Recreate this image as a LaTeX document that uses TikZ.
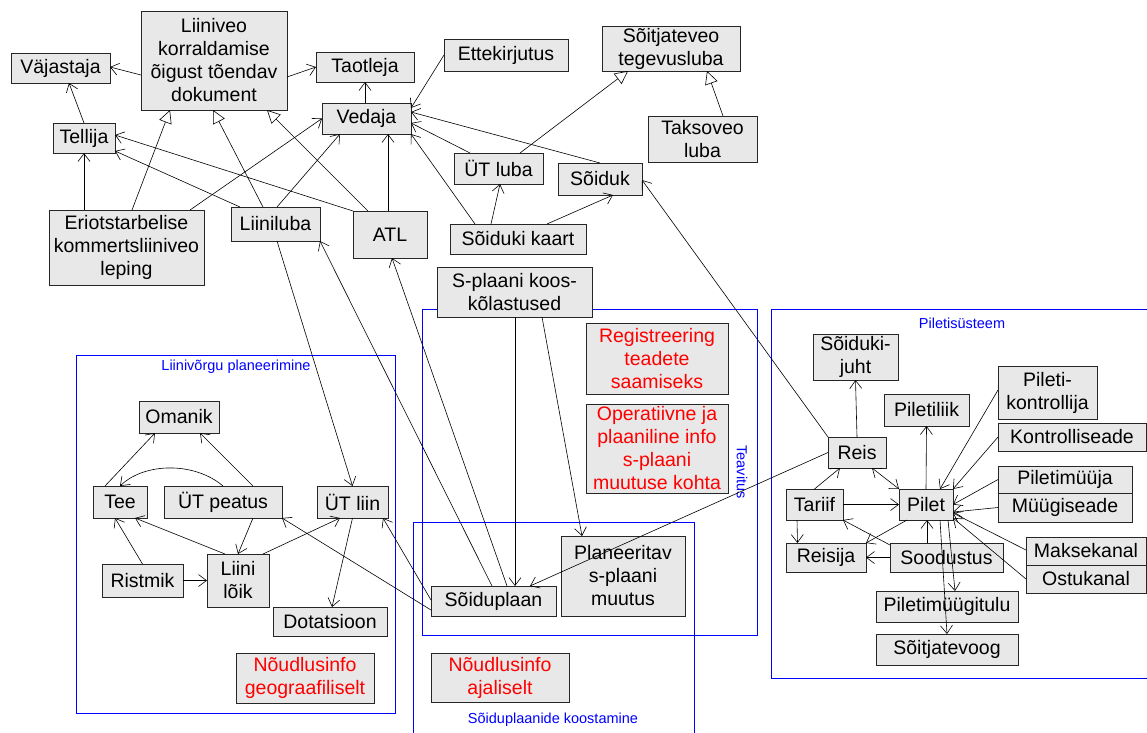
\documentclass[tikz,border=0pt]{standalone}
\usepackage{fontspec}
\setmainfont{Liberation Sans}
\usetikzlibrary{arrows.meta}
\tikzset{
  box/.style={draw=black!85, fill=black!9, line width=0.8pt, inner sep=0pt, outer sep=0pt, align=center, font=\fontsize{19.5}{23}\selectfont, text=black},
  edge/.style={draw=black, line width=0.6pt, -{Straight Barb[length=8pt,width=12pt]}},
  edgeboth/.style={draw=black, line width=0.6pt, {Straight Barb[length=8pt,width=12pt]}-{Straight Barb[length=8pt,width=12pt]}},
  gen/.style={draw=black, line width=0.6pt, -{Triangle[open,length=13pt,width=13pt]}},
  grp/.style={draw=blue, line width=0.8pt},
  grplabel/.style={text=blue, font=\fontsize{14.5}{17}\selectfont, inner sep=0pt},
}
\newcommand\mybox[7][]{\node[box,#1,minimum width={(#5-#3)*1pt},minimum height={(#6-#4)*1pt}] (#2) at ({(#3+#5)/2},{(#4+#6)/2}) {#7};}
\begin{document}
\begin{tikzpicture}[x=1pt,y=-1pt]
\path[use as bounding box, fill=white] (0,0) rectangle (1147,732);
% groups
\draw[grp] (76,355) rectangle (395,713);
\draw[grp] (422,309) rectangle (757,635);
\draw[grp] (413,733) -- (413,522) -- (694,522) -- (694,733);
\draw[grp] (1148,309) -- (771,309) -- (771,678) -- (1148,678);
\node[grplabel] (lbl1) at (236,367) {Liinivõrgu planeerimine};
\node[grplabel, rotate=-90] (lbl2) at (742,472) {Teavitus};
\node[grplabel] (lbl3) at (553,720) {Sõiduplaanide koostamine};
\node[grplabel] (lbl4) at (962,323) {Piletisüsteem};
% nodes
\mybox{vaj}{11}{53}{110}{83}{Väjastaja}
\mybox{lkd}{141}{11}{287}{110}{Liiniveo\\korraldamise\\õigust tõendav\\dokument}
\mybox{tao}{316}{52}{414}{82}{Taotleja}
\mybox{ved}{322}{103}{411}{134}{Vedaja}
\mybox{tel}{53}{123}{115}{153}{Tellija}
\mybox{eri}{49}{210}{204}{285}{Eriotstarbelise\\kommertsliiniveo\\leping}
\mybox{lub}{231}{207}{320}{241}{Liiniluba}
\mybox{atl}{353}{211}{427}{258}{ATL}
\mybox{ette}{444}{39}{568}{71}{Ettekirjutus}
\mybox{stl}{602}{26}{740}{71}{Sõitjateveo\\tegevusluba}
\mybox{tak}{648}{116}{757}{162}{Taksoveo\\luba}
\mybox{utl}{454}{153}{543}{184}{ÜT luba}
\mybox{soi}{558}{163}{642}{195}{Sõiduk}
\mybox{ska}{450}{224}{586}{254}{Sõiduki kaart}
\mybox{spk}{437}{267}{592}{317}{S-plaani koos-\\kõlastused}
\mybox[text=red]{reg}{586}{323}{728}{394}{Registreering\\teadete\\saamiseks}
\mybox[text=red]{ope}{586}{404}{728}{493}{Operatiivne ja\\plaaniline info\\s-plaani\\muutuse kohta}
\mybox{spl}{431}{586}{556}{616}{Sõiduplaan}
\mybox{pla}{561}{536}{685}{616}{Planeeritav\\s-plaani\\muutus}
\mybox[text=red]{nai}{431}{653}{569}{702}{Nõudlusinfo\\ajaliselt}
\mybox{oma}{139}{401}{219}{433}{Omanik}
\mybox{tee}{93}{486}{147}{518}{Tee}
\mybox{utp}{164}{486}{282}{518}{ÜT peatus}
\mybox{utli}{317}{486}{388}{518}{ÜT liin}
\mybox{ris}{102}{564}{183}{597}{Ristmik}
\mybox{llo}{207}{554}{269}{607}{Liini\\lõik}
\mybox{dot}{273}{607}{387}{636}{Dotatsioon}
\mybox[text=red]{ngeo}{236}{653}{374}{703}{Nõudlusinfo\\geograafiliselt}
\mybox{sju}{813}{334}{898}{380}{Sõiduki-\\juht}
\mybox{pliik}{884}{394}{969}{426}{Piletiliik}
\mybox{pk}{998}{366}{1097}{419}{Pileti-\\kontrollija}
\mybox{kse}{998}{423}{1146}{451}{Kontrolliseade}
\mybox{pmj}{998}{466}{1132}{493}{Piletimüüja}
\mybox{mse}{998}{493}{1132}{522}{Müügiseade}
\mybox{reis}{828}{437}{886}{468}{Reis}
\mybox{tar}{786}{489}{843}{520}{Tariif}
\mybox{pil}{899}{489}{953}{520}{Pilet}
\mybox{rsj}{786}{543}{866}{572}{Reisija}
\mybox{soo}{890}{543}{1003}{572}{Soodustus}
\mybox{mk}{1026}{537}{1146}{565}{Maksekanal}
\mybox{ost}{1026}{565}{1146}{593}{Ostukanal}
\mybox{pmt}{876}{591}{1018}{622}{Piletimüügitulu}
\mybox{stv}{876}{634}{1018}{665}{Sõitjatevoog}
% top edges
\draw[edge] ([shift={(0,14.5)}]lkd.west) -- ([shift={(0,-1)}]vaj.east);
\draw[edge] ([shift={(0,16.5)}]lkd.east) -- (tao.west);
\draw[edge] (tel.north) -- ([shift={(8.5,0)}]vaj.south);
\draw[edge] ([shift={(-1.5,0)}]ved.north) -- (tao.south);
\draw[edge] ([shift={(-42.5,0)}]eri.north) -- (tel.south);
\draw[gen] ([shift={(5.5,0)}]eri.north) -- ([shift={(-44,0)}]lkd.south);
\draw[edge] ([shift={(63.5,0)}]eri.north) -- (ved.west);
\draw[edge] ([shift={(-35.5,0)}]lub.north) -- ([shift={(0,13)}]tel.east);
\draw[gen] ([shift={(-12.5,0)}]lub.north) -- ([shift={(-1,0)}]lkd.south);
\draw[edge] ([shift={(1.5,0)}]lub.north) -- ([shift={(-26.5,0)}]ved.south);
\draw[edge] (atl.north west) -- ([shift={(0,-3)}]tel.east);
\draw[gen] ([shift={(-22,0)}]atl.north) -- ([shift={(53,0)}]lkd.south);
\draw[edge] ([shift={(-2,0)}]atl.north) -- ([shift={(21.5,0)}]ved.south);
\draw[edge] (ette.west) -- ([shift={(0,5)}]ved.north east);
\draw[edge] ([shift={(-28.5,0)}]utl.north) -- ([shift={(0,4.5)}]ved.east);
\draw[edge] (soi.north) -- ([shift={(0,-6.5)}]ved.east);
\draw[edge] ([shift={(-43,0)}]ska.north) -- (ved.south east);
\draw[edge] ([shift={(-27,0)}]ska.north) -- ([shift={(1.5,0)}]utl.south);
\draw[edge] ([shift={(29,0)}]ska.north) -- ([shift={(13,0)}]soi.south);
\draw[gen] ([shift={(21.5,0)}]utl.north) -- ([shift={(-43,0)}]stl.south);
\draw[gen] ([shift={(20.5,0)}]tak.north) -- ([shift={(36,0)}]stl.south);
% long edges
\draw[edge] (reis.north west) -- ([shift={(0,1)}]soi.east);
\draw[edge] (reis.west) -- ([shift={(36.5,0)}]spl.north);
\draw[edge] ([shift={(0.5,0)}]spk.south) -- ([shift={(21.5,0)}]spl.north);
\draw[edge] ([shift={(27.5,0)}]spk.south) -- ([shift={(-41,0)}]pla.north);
\draw[edge] ([shift={(-1.5,0)}]spl.north) -- (lub.south east);
\draw[edge] ([shift={(13.5,0)}]spl.north) -- ([shift={(2,0)}]atl.south);
\draw[edge] ([shift={(1.5,0)}]lub.south) -- (utli.north);
\draw[edge] ([shift={(0,-1)}]spl.west) -- ([shift={(30.5,0)}]utli.south);
\draw[edge] ([shift={(0,9)}]spl.west) -- (utp.south east);
% network planning
\draw[edge] ([shift={(-15,0)}]tee.north) -- ([shift={(-24,0)}]oma.south);
\draw[edge] ([shift={(30,0)}]utp.north) -- ([shift={(21,0)}]oma.south);
\draw[edge] (utp.north) .. controls ([shift={(-28,-24)}]utp.north) and ([shift={(25,-24)}]tee.north) .. (tee.north);
\draw[edge] ([shift={(30,0)}]utp.south) -- (llo.north);
\draw[edge] ([shift={(-13,0)}]llo.north) -- ([shift={(15,0)}]tee.south);
\draw[edge] (ris.north) -- ([shift={(-5,0)}]tee.south);
\draw[edge] (ris.east) -- (llo.west);
\draw[edge] ([shift={(25,0)}]llo.north) -- ([shift={(-12.5,0)}]utli.south);
\draw[edge] (utli.south) -- ([shift={(2,0)}]dot.north);
% ticketing
\draw[edge] (reis.north) -- (sju.south);
\draw[edge] (pil.north) -- (pliik.south);
\draw[edge] (tar.north) -- ([shift={(-17,0)}]reis.south);
\draw[edgeboth] ([shift={(15,0)}]reis.south) -- (pil.north west);
\draw[edge] (tar.east) -- (pil.west);
\draw[edge] ([shift={(-17.5,0)}]tar.south) -- ([shift={(-28.5,0)}]rsj.north);
\draw[edge] ([shift={(-19,0)}]pil.south) -- (rsj.north east);
\draw[edge] (soo.west) -- (rsj.east);
\draw[edge] ([shift={(0,2)}]soo.north west) -- (tar.south east);
\draw[edge] ([shift={(-19.5,0)}]soo.north) -- ([shift={(1,0)}]pil.south);
\draw[edge] ([shift={(22,0)}]pil.south) -- ([shift={(8,0)}]pmt.north);
\draw[edge] ([shift={(14,0)}]pil.south) -- (stv.north);
\draw[edge] ([shift={(0,-2.5)}]pk.west) -- ([shift={(14,0)}]pil.north);
\draw[edge] (kse.west) -- (pil.north east);
\draw[edge] (pmj.west) -- (pil.east);
\draw[edge] (mse.west) -- ([shift={(0,7.5)}]pil.east);
\draw[edge] ([shift={(0,-1)}]mk.west) -- ([shift={(0,8.5)}]pil.east);
\draw[edge] (ost.west) -- ([shift={(0,-2)}]pil.south east);
\end{tikzpicture}
\end{document}
